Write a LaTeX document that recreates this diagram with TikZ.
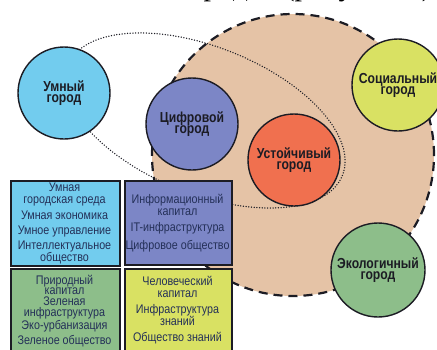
\documentclass[tikz,border=0pt]{standalone}
\usepackage{fontspec}
\setmainfont{Liberation Serif}
\newfontfamily\cond[FakeStretch=0.86]{Liberation Sans}
\newfontfamily\condb[FakeStretch=0.84]{Liberation Sans}
\definecolor{peach}{HTML}{E5C3A6}
\definecolor{cblue}{HTML}{72CCEE}
\definecolor{cperi}{HTML}{7C86C6}
\definecolor{corange}{HTML}{F0704F}
\definecolor{cyellow}{HTML}{D9E163}
\definecolor{cgreen}{HTML}{8DBE8A}
\definecolor{navy}{HTML}{243058}
\definecolor{ink}{HTML}{1C1C24}
\tikzset{
  city/.style={circle, draw=ink, line width=1.4pt, minimum size=92pt, inner sep=0pt,
    align=center, text=ink, font=\condb\bfseries\fontsize{14.5}{11.5}\selectfont},
  panel/.style={rectangle, draw=ink, line width=1.8pt, anchor=north west, inner sep=0pt},
  ptext/.style={align=center, text=navy, inner sep=0pt, font=\cond\fontsize{12.5}{12}\selectfont},
  ptextt/.style={align=center, text=navy, inner sep=0pt, font=\cond\fontsize{12.5}{10.5}\selectfont},
  dotline/.style={line width=1.5pt, dash pattern=on 0pt off 2.7pt, line cap=round, draw=ink},
}
\begin{document}
\begin{tikzpicture}[x=1pt,y=-1pt]
\useasboundingbox (0,0) rectangle (437,349);
% cut-off line of text at top
\node[anchor=base east, inner sep=0pt, font=\fontsize{30}{30}\selectfont] (toptext) at (432,-4.5) {городов (рисунок 1)};
% big region
\node[circle, fill=peach, draw=ink, line width=2.2pt, dash pattern=on 9pt off 6pt,
  minimum size=282pt, inner sep=0pt] (big) at (293,155) {};
% dotted ellipse
\coordinate (ec) at (205,120.5);
\draw[dotline, rotate around={-21.8:(ec)}] (ec) ellipse [x radius=148, y radius=73.4];
% cities
\node[city, fill=cblue] (umn) at (64,93) {Умный\\город};
\node[city, fill=cperi] (cif) at (192,124) {Цифровой\\город};
\node[city, fill=corange] (ust) at (294,160) {Устойчивый\\город};
\node[city, fill=cyellow] (soc) at (398,85) {Социальный\\город};
\node[city, fill=cgreen, minimum size=94pt] (eco) at (378,270) {Экологичный\\город};
% panels
\node[panel, fill=cblue, minimum width=109pt, minimum height=85pt] (b1) at (10,180) {};
\node[panel, fill=cperi, minimum width=107pt, minimum height=84pt] (b2) at (124,180) {};
\node[panel, fill=cgreen, minimum width=109pt, minimum height=90pt] (b3) at (10,268) {};
\node[panel, fill=cyellow, minimum width=107pt, minimum height=90pt] (b4) at (124,268) {};
% panel 1 text
\node[ptext] (t11) at (64.5,194) {Умная\\городская среда};
\node[ptext] (t12) at (64.5,215) {Умная экономика};
\node[ptext] (t13) at (64.5,231) {Умное управление};
\node[ptext] (t14) at (64.5,252) {Интеллектуальное\\общество};
% panel 2 text
\node[ptext] (t21) at (177.5,205) {Информационный\\капитал};
\node[ptext] (t22) at (177.5,228) {IT-инфраструктура};
\node[ptext] (t23) at (177.5,246) {Цифровое общество};
% panel 3 text
\node[ptextt] (t31) at (64.5,285) {Природный\\капитал};
\node[ptextt] (t32) at (64.5,308) {Зеленая\\инфраструктура};
\node[ptext] (t33) at (64.5,326.5) {Эко-урбанизация};
\node[ptext] (t34) at (64.5,341) {Зеленое общество};
% panel 4 text
\node[ptext] (t41) at (177.5,286.5) {Человеческий\\капитал};
\node[ptext] (t42) at (177.5,315) {Инфраструктура\\знаний};
\node[ptext] (t43) at (177.5,338) {Общество знаний};
\end{tikzpicture}
\end{document}
